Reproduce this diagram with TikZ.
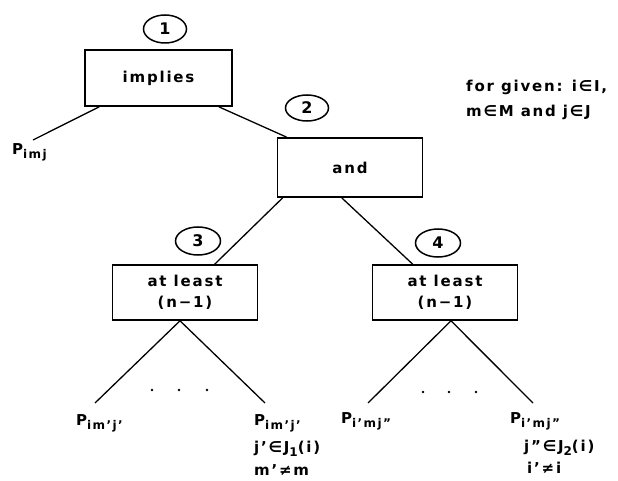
\documentclass[tikz,border=0pt]{standalone}
\usepackage{fontspec}
\setmainfont[LetterSpace=12]{DejaVu Sans}
\usetikzlibrary{shapes.geometric,calc}
\newcommand{\lbl}{\fontsize{15}{21}\selectfont\bfseries}
\newcommand{\sbs}[1]{\raisebox{-4pt}{\fontsize{12}{12}\selectfont #1}}
\begin{document}
\begin{tikzpicture}[x=1pt,y=-1pt,
  box/.style={draw,line width=1.6pt,minimum width=145pt,minimum height=55pt,align=center,inner sep=0pt,font=\lbl},
  num/.style={draw,ellipse,line width=1.5pt,minimum width=43pt,minimum height=28pt,inner sep=0pt,font=\fontsize{16}{16}\selectfont\bfseries},
  conn/.style={line width=1.3pt},
  lab/.style={inner sep=0pt,font=\lbl,anchor=west},
  dot/.style={circle,fill,inner sep=0pt,minimum size=2.8pt}]
\useasboundingbox (0,0) rectangle (618,481);
% circles
\node[num] (c1) at (165,29) {1};
\node[num,minimum height=26pt] (c2) at (307,108) {2};
\node[num,minimum width=45pt] (c3) at (198,241) {3};
\node[num,minimum width=45pt] (c4) at (438,243) {4};
% boxes
\node[box,minimum height=56pt,minimum width=147pt] (imp) at (158.5,78) {implies};
\node[box,minimum height=59pt] (and) at (350,167.5) {and};
\node[box] (al3) at (185,292.5) {at least\\(n−1)};
\node[box] (al4) at (445,292.5) {at least\\(n−1)};
% labels
\node[lab] (pimj) at (12,152) {P\sbs{imj}};
\node[lab] (p3a) at (76,423) {P\sbs{im'j'}};
\node[lab] (p3b) at (254,423) {P\sbs{im'j'}};
\node[lab] (c3a) at (254,449) {j'∈J\sbs{1}(i)};
\node[lab] (c3b) at (254,470) {m'≠m};
\node[lab] (p4a) at (341,421) {P\sbs{i'mj"}};
\node[lab] (p4b) at (510,421) {P\sbs{i'mj"}};
\node[lab] (c4a) at (524,448) {j"∈J\sbs{2}(i)};
\node[lab] (c4b) at (527,468) {i'≠i};
\node[lab,align=left,font=\fontsize{15}{25}\selectfont\bfseries] (given) at (466,100) {for given: i∈I,\\m∈M and j∈J};
% connector end points
\coordinate (e0) at (33,140);
\coordinate (a3) at (180,320.8);
\coordinate (a4) at (451,320.8);
\coordinate (e3a) at (95,403);
\coordinate (e3b) at (265,403);
\coordinate (e4a) at (368,403);
\coordinate (e4b) at (533,403);
% connectors
\draw[conn] ($(imp.south west)+(15,0)$) -- (e0);
\draw[conn] ($(imp.south east)+(-14,0)$) -- ($(and.north west)+(10,0)$);
\draw[conn] ($(and.south west)+(6,0)$) -- ($(al3.north west)+(103,0)$);
\draw[conn] ($(and.south west)+(65,0)$) -- ($(al4.north west)+(41,0)$);
\draw[conn] (e3a) -- (a3) -- (e3b);
\draw[conn] (e4a) -- (a4) -- (e4b);
% dots
\node[dot] (d1) at (152,390) {};
\node[dot] (d2) at (179,390) {};
\node[dot] (d3) at (207,390) {};
\node[dot] (d4) at (423,392) {};
\node[dot] (d5) at (449,392) {};
\node[dot] (d6) at (476,392) {};
\end{tikzpicture}
\end{document}
